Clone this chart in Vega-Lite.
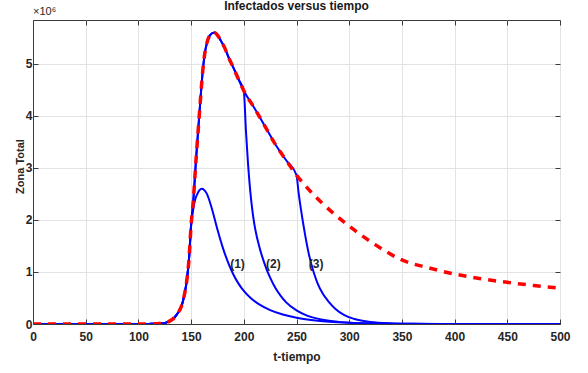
{
  "$schema": "https://vega.github.io/schema/vega-lite/v6.json",
  "autosize": "none",
  "width": 527,
  "height": 304,
  "padding": {"left": 33, "top": 20, "right": 28, "bottom": 49},
  "background": "white",
  "config": {
    "view": {"stroke": "#3a3a3a", "strokeWidth": 1},
    "font": "Liberation Sans Narrow, Liberation Sans, Arial",
    "axis": {
      "labelFont": "Liberation Sans Narrow, Liberation Sans, Arial",
      "titleFont": "Liberation Sans Narrow, Liberation Sans, Arial"
    }
  },
  "title": {
    "text": "Infectados versus tiempo",
    "fontSize": 12,
    "fontWeight": "bold",
    "font": "Liberation Sans Narrow, Liberation Sans, Arial",
    "color": "#1a1a1a",
    "offset": -7,
    "anchor": "middle"
  },
  "datasets": {
    "curvas": [
      {"serie": "c1", "t": 0, "y": 0}, {"serie": "c1", "t": 50, "y": 0}, {"serie": "c1", "t": 100, "y": 0}, {"serie": "c1", "t": 110, "y": 0.002}, {"serie": "c1", "t": 120, "y": 0.008}, {"serie": "c1", "t": 125, "y": 0.02}, {"serie": "c1", "t": 130, "y": 0.06}, {"serie": "c1", "t": 134, "y": 0.12}, {"serie": "c1", "t": 137, "y": 0.2}, {"serie": "c1", "t": 140, "y": 0.3}, {"serie": "c1", "t": 142, "y": 0.42}, {"serie": "c1", "t": 144, "y": 0.6}, {"serie": "c1", "t": 146, "y": 0.85}, {"serie": "c1", "t": 148, "y": 1.25}, {"serie": "c1", "t": 150, "y": 1.9},
      {"serie": "c1", "t": 152, "y": 2.2}, {"serie": "c1", "t": 154, "y": 2.4}, {"serie": "c1", "t": 156, "y": 2.5}, {"serie": "c1", "t": 158, "y": 2.57}, {"serie": "c1", "t": 160, "y": 2.6}, {"serie": "c1", "t": 165, "y": 2.5}, {"serie": "c1", "t": 170, "y": 2.195}, {"serie": "c1", "t": 175, "y": 1.815}, {"serie": "c1", "t": 180, "y": 1.471}, {"serie": "c1", "t": 186, "y": 1.137}, {"serie": "c1", "t": 190, "y": 0.957}, {"serie": "c1", "t": 195, "y": 0.776}, {"serie": "c1", "t": 200, "y": 0.635}, {"serie": "c1", "t": 207, "y": 0.49}, {"serie": "c1", "t": 215, "y": 0.373}, {"serie": "c1", "t": 225, "y": 0.268}, {"serie": "c1", "t": 237, "y": 0.183}, {"serie": "c1", "t": 250, "y": 0.121}, {"serie": "c1", "t": 270, "y": 0.064}, {"serie": "c1", "t": 300, "y": 0.025}, {"serie": "c1", "t": 330, "y": 0.009}, {"serie": "c1", "t": 360, "y": 0.003}, {"serie": "c1", "t": 400, "y": 0}, {"serie": "c1", "t": 500, "y": 0},

      {"serie": "c2", "t": 0, "y": 0}, {"serie": "c2", "t": 50, "y": 0}, {"serie": "c2", "t": 100, "y": 0}, {"serie": "c2", "t": 110, "y": 0.002}, {"serie": "c2", "t": 120, "y": 0.008}, {"serie": "c2", "t": 125, "y": 0.02}, {"serie": "c2", "t": 130, "y": 0.06}, {"serie": "c2", "t": 134, "y": 0.12}, {"serie": "c2", "t": 137, "y": 0.2}, {"serie": "c2", "t": 140, "y": 0.3}, {"serie": "c2", "t": 142, "y": 0.42}, {"serie": "c2", "t": 144, "y": 0.6}, {"serie": "c2", "t": 146, "y": 0.85}, {"serie": "c2", "t": 148, "y": 1.25}, {"serie": "c2", "t": 150, "y": 1.9}, {"serie": "c2", "t": 152, "y": 2.35}, {"serie": "c2", "t": 155, "y": 3.25}, {"serie": "c2", "t": 157, "y": 3.8}, {"serie": "c2", "t": 159, "y": 4.35}, {"serie": "c2", "t": 161, "y": 4.85}, {"serie": "c2", "t": 163, "y": 5.2}, {"serie": "c2", "t": 165, "y": 5.4}, {"serie": "c2", "t": 168, "y": 5.55}, {"serie": "c2", "t": 172, "y": 5.6}, {"serie": "c2", "t": 175, "y": 5.55}, {"serie": "c2", "t": 178, "y": 5.45}, {"serie": "c2", "t": 182, "y": 5.3}, {"serie": "c2", "t": 186, "y": 5.1}, {"serie": "c2", "t": 190, "y": 4.93}, {"serie": "c2", "t": 195, "y": 4.7}, {"serie": "c2", "t": 200, "y": 4.48},
      {"serie": "c2", "t": 202, "y": 3.72}, {"serie": "c2", "t": 204, "y": 3.08}, {"serie": "c2", "t": 206, "y": 2.58}, {"serie": "c2", "t": 208, "y": 2.2}, {"serie": "c2", "t": 210, "y": 1.92}, {"serie": "c2", "t": 212, "y": 1.71}, {"serie": "c2", "t": 214, "y": 1.54}, {"serie": "c2", "t": 216, "y": 1.39}, {"serie": "c2", "t": 218, "y": 1.26}, {"serie": "c2", "t": 220, "y": 1.14}, {"serie": "c2", "t": 222, "y": 1.03}, {"serie": "c2", "t": 225, "y": 0.89}, {"serie": "c2", "t": 230, "y": 0.69}, {"serie": "c2", "t": 235, "y": 0.54}, {"serie": "c2", "t": 240, "y": 0.42}, {"serie": "c2", "t": 250, "y": 0.26}, {"serie": "c2", "t": 260, "y": 0.16}, {"serie": "c2", "t": 275, "y": 0.08}, {"serie": "c2", "t": 290, "y": 0.04}, {"serie": "c2", "t": 310, "y": 0.015}, {"serie": "c2", "t": 340, "y": 0.004}, {"serie": "c2", "t": 380, "y": 0}, {"serie": "c2", "t": 500, "y": 0},

      {"serie": "c3", "t": 0, "y": 0}, {"serie": "c3", "t": 50, "y": 0}, {"serie": "c3", "t": 100, "y": 0}, {"serie": "c3", "t": 110, "y": 0.002}, {"serie": "c3", "t": 120, "y": 0.008}, {"serie": "c3", "t": 125, "y": 0.02}, {"serie": "c3", "t": 130, "y": 0.06}, {"serie": "c3", "t": 134, "y": 0.12}, {"serie": "c3", "t": 137, "y": 0.2}, {"serie": "c3", "t": 140, "y": 0.3}, {"serie": "c3", "t": 142, "y": 0.42}, {"serie": "c3", "t": 144, "y": 0.6}, {"serie": "c3", "t": 146, "y": 0.85}, {"serie": "c3", "t": 148, "y": 1.25}, {"serie": "c3", "t": 150, "y": 1.9}, {"serie": "c3", "t": 152, "y": 2.35}, {"serie": "c3", "t": 155, "y": 3.25}, {"serie": "c3", "t": 157, "y": 3.8}, {"serie": "c3", "t": 159, "y": 4.35}, {"serie": "c3", "t": 161, "y": 4.85}, {"serie": "c3", "t": 163, "y": 5.2}, {"serie": "c3", "t": 165, "y": 5.4}, {"serie": "c3", "t": 168, "y": 5.55}, {"serie": "c3", "t": 172, "y": 5.6}, {"serie": "c3", "t": 175, "y": 5.55}, {"serie": "c3", "t": 178, "y": 5.45}, {"serie": "c3", "t": 182, "y": 5.3}, {"serie": "c3", "t": 186, "y": 5.1}, {"serie": "c3", "t": 190, "y": 4.93}, {"serie": "c3", "t": 195, "y": 4.7}, {"serie": "c3", "t": 200, "y": 4.48}, {"serie": "c3", "t": 210, "y": 4.15}, {"serie": "c3", "t": 220, "y": 3.8}, {"serie": "c3", "t": 230, "y": 3.45}, {"serie": "c3", "t": 240, "y": 3.15}, {"serie": "c3", "t": 250, "y": 2.86},
      {"serie": "c3", "t": 252, "y": 2.52}, {"serie": "c3", "t": 254, "y": 2.23}, {"serie": "c3", "t": 256, "y": 1.97}, {"serie": "c3", "t": 258, "y": 1.73}, {"serie": "c3", "t": 261, "y": 1.41}, {"serie": "c3", "t": 265, "y": 1.08}, {"serie": "c3", "t": 267, "y": 0.95}, {"serie": "c3", "t": 270, "y": 0.78}, {"serie": "c3", "t": 275, "y": 0.58}, {"serie": "c3", "t": 280, "y": 0.44}, {"serie": "c3", "t": 287, "y": 0.29}, {"serie": "c3", "t": 295, "y": 0.175}, {"serie": "c3", "t": 305, "y": 0.095}, {"serie": "c3", "t": 320, "y": 0.037}, {"serie": "c3", "t": 340, "y": 0.011}, {"serie": "c3", "t": 360, "y": 0.003}, {"serie": "c3", "t": 390, "y": 0}, {"serie": "c3", "t": 500, "y": 0},

      {"serie": "base", "t": 0, "y": 0}, {"serie": "base", "t": 50, "y": 0}, {"serie": "base", "t": 100, "y": 0}, {"serie": "base", "t": 110, "y": 0.002}, {"serie": "base", "t": 120, "y": 0.008}, {"serie": "base", "t": 125, "y": 0.02}, {"serie": "base", "t": 130, "y": 0.06}, {"serie": "base", "t": 134, "y": 0.12}, {"serie": "base", "t": 137, "y": 0.2}, {"serie": "base", "t": 140, "y": 0.3}, {"serie": "base", "t": 142, "y": 0.42}, {"serie": "base", "t": 144, "y": 0.6}, {"serie": "base", "t": 146, "y": 0.85}, {"serie": "base", "t": 148, "y": 1.25}, {"serie": "base", "t": 150, "y": 1.9}, {"serie": "base", "t": 152, "y": 2.35}, {"serie": "base", "t": 155, "y": 3.25}, {"serie": "base", "t": 157, "y": 3.8}, {"serie": "base", "t": 159, "y": 4.35}, {"serie": "base", "t": 161, "y": 4.85}, {"serie": "base", "t": 163, "y": 5.2}, {"serie": "base", "t": 165, "y": 5.4}, {"serie": "base", "t": 168, "y": 5.55}, {"serie": "base", "t": 172, "y": 5.6}, {"serie": "base", "t": 175, "y": 5.55}, {"serie": "base", "t": 178, "y": 5.45}, {"serie": "base", "t": 182, "y": 5.3}, {"serie": "base", "t": 186, "y": 5.1}, {"serie": "base", "t": 190, "y": 4.93}, {"serie": "base", "t": 195, "y": 4.7}, {"serie": "base", "t": 200, "y": 4.48}, {"serie": "base", "t": 210, "y": 4.15}, {"serie": "base", "t": 220, "y": 3.8}, {"serie": "base", "t": 230, "y": 3.45}, {"serie": "base", "t": 240, "y": 3.15}, {"serie": "base", "t": 250, "y": 2.86}, {"serie": "base", "t": 260, "y": 2.62}, {"serie": "base", "t": 275, "y": 2.31}, {"serie": "base", "t": 300, "y": 1.88}, {"serie": "base", "t": 325, "y": 1.52}, {"serie": "base", "t": 350, "y": 1.23}, {"serie": "base", "t": 375, "y": 1.08}, {"serie": "base", "t": 400, "y": 0.96}, {"serie": "base", "t": 425, "y": 0.87}, {"serie": "base", "t": 450, "y": 0.8}, {"serie": "base", "t": 475, "y": 0.74}, {"serie": "base", "t": 500, "y": 0.69}
    ],
    "etiquetas": [
      {"t": 194, "y": 1.16, "texto": "(1)"},
      {"t": 228, "y": 1.16, "texto": "(2)"},
      {"t": 268.6, "y": 1.16, "texto": "(3)"}
    ],
    "escala": [
      {"t": 0, "y": 5.84, "texto": "×10⁶"}
    ]
  },
  "resolve": {"axis": {"x": "independent", "y": "independent"}},
  "layer": [
    {
      "data": {"name": "curvas"},
      "transform": [{"filter": "datum.serie !== 'base'"}],
      "mark": {"type": "line", "color": "#0000ff", "strokeWidth": 2, "interpolate": "monotone", "clip": true},
      "encoding": {
        "x": {
          "field": "t", "type": "quantitative",
          "scale": {"domain": [0, 500], "nice": false},
          "axis": {
            "title": "t-tiempo", "values": [0, 50, 100, 150, 200, 250, 300, 350, 400, 450, 500],
            "grid": true, "gridColor": "#e3e3e3", "domainColor": "#3a3a3a",
            "tickColor": "#3a3a3a", "tickSize": -5, "labelPadding": 12,
            "labelFontSize": 12, "labelFontWeight": "bold", "labelColor": "#262626",
            "titleFontSize": 12, "titleFontWeight": "bold", "titleColor": "#262626", "titlePadding": 9,
            "labelFlush": false
          }
        },
        "y": {
          "field": "y", "type": "quantitative",
          "scale": {"domain": [0, 5.84], "nice": false},
          "axis": {
            "title": "Zona Total", "values": [0, 1, 2, 3, 4, 5],
            "grid": true, "gridColor": "#e3e3e3", "domainColor": "#3a3a3a",
            "tickColor": "#3a3a3a", "tickSize": -5, "labelPadding": 6,
            "labelFontSize": 12, "labelFontWeight": "bold", "labelColor": "#262626",
            "titleFontSize": 11, "titleFontWeight": "bold", "titleColor": "#262626",
            "titleAngle": -90, "titleX": -10, "titleY": 146, "titleBaseline": "alphabetic", "titleAlign": "center",
            "labelFlush": false
          }
        },
        "detail": {"field": "serie"}
      }
    },
    {
      "data": {"name": "curvas"},
      "transform": [{"filter": "datum.serie === 'base'"}],
      "mark": {"type": "line", "color": "#ff0000", "strokeWidth": 3.5, "strokeDash": [8, 7], "interpolate": "monotone", "clip": true},
      "encoding": {
        "x": {"field": "t", "type": "quantitative", "axis": null},
        "y": {"field": "y", "type": "quantitative", "axis": null}
      }
    },
    {
      "data": {"name": "etiquetas"},
      "mark": {"type": "text", "fontSize": 12, "fontWeight": "bold", "color": "#262626", "font": "Liberation Sans Narrow, Liberation Sans, Arial"},
      "encoding": {
        "x": {"field": "t", "type": "quantitative", "axis": null},
        "y": {"field": "y", "type": "quantitative", "axis": null},
        "text": {"field": "texto"}
      }
    },
    {
      "data": {"name": "escala"},
      "mark": {"type": "text", "fontSize": 11, "color": "#262626", "align": "left", "baseline": "bottom", "dy": -3, "font": "Liberation Sans Narrow, Liberation Sans, Arial"},
      "encoding": {
        "x": {
          "field": "t", "type": "quantitative",
          "axis": {"orient": "top", "values": [0, 50, 100, 150, 200, 250, 300, 350, 400, 450, 500], "labels": false, "grid": false, "domain": false, "tickColor": "#3a3a3a", "tickSize": -5, "title": null}
        },
        "y": {
          "field": "y", "type": "quantitative",
          "axis": {"orient": "right", "values": [0, 1, 2, 3, 4, 5], "labels": false, "grid": false, "domain": false, "tickColor": "#3a3a3a", "tickSize": -5, "title": null}
        },
        "text": {"field": "texto"}
      }
    }
  ]
}
